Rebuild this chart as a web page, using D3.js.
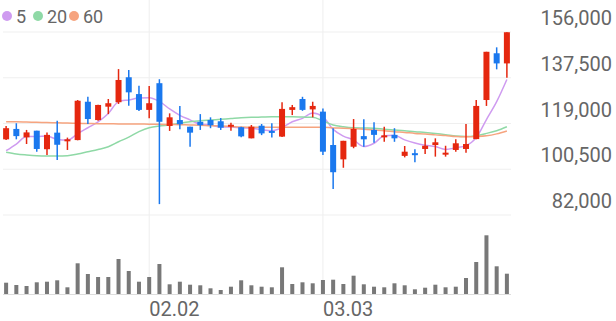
<!DOCTYPE html>
<html><head><meta charset="utf-8">
<script src="https://cdn.jsdelivr.net/npm/d3@7"></script>
<style>html,body{margin:0;padding:0;background:#fff;} svg{display:block;font-family:Roboto,"Noto Sans",sans-serif;}</style>
</head><body>
<svg id="chart" width="616" height="321"></svg>
<script>
const dates = ["01.13","01.14","01.15","01.16","01.19","01.20","01.21","01.22","01.23","01.26","01.27","01.28","01.29","01.30",
  "02.02","02.03","02.04","02.05","02.06","02.09","02.10","02.11","02.12","02.13","02.19","02.20","02.23","02.24","02.25","02.26","02.27",
  "03.03","03.04","03.05","03.06","03.09","03.10","03.11","03.12","03.13","03.16","03.17","03.18","03.19","03.20","03.23","03.24","03.25","03.26","03.27"];
const open  = [112600,116800,113400,116100,108600,115300,111800,112300,127800,120400,125800,127600,137700,130900,124500,135300,118000,120400,117700,119700,120400,119900,118000,117500,113000,118100,116000,113700,124500,128900,124700,123800,110300,104500,109600,113900,116400,113400,114400,105900,107000,108700,110300,106400,108300,108700,112700,128500,147400,143300];
const high  = [118000,119100,116400,116100,115400,120100,113300,128500,129800,126600,128900,141000,140600,134300,134200,136900,123100,126100,117700,122800,121500,121200,119300,117700,118400,118800,119100,127600,126500,129800,127800,125100,117100,112000,120800,120700,119500,117700,117100,109900,108600,113000,113000,110000,112600,118800,128500,148000,149800,155900];
const low   = [112300,112600,110700,107600,106300,104200,108300,112200,118800,120100,122800,126900,126200,124100,121100,86400,116000,116700,109600,116400,117100,116400,116100,113400,113000,114300,113300,113500,122400,124100,121500,106300,92500,101100,109000,109600,111200,111600,111600,105300,103300,106700,105600,105600,107600,107200,112600,126100,140900,137500];
const close = [117100,113900,115400,108700,114400,110400,112600,128200,120800,126500,127200,136600,131600,124500,127200,119700,121500,118700,115300,118300,118300,117300,118500,113800,117700,115000,115300,124900,125600,124500,126100,107600,99300,112000,116800,112600,114400,114200,113000,107600,106300,110000,111400,107200,111000,110700,126100,148000,143300,155900];
const volume = [113,90,80,117,123,137,67,307,200,170,170,350,230,123,170,300,97,123,93,87,57,40,73,137,87,73,67,267,100,117,107,140,143,100,183,97,73,67,107,87,47,63,93,67,73,160,320,587,277,203];
const ma5  = [108000,110700,113700,113700,113900,112560,112300,114860,117280,119700,123060,127860,128540,129280,129420,127920,124900,122320,120480,118700,118420,117580,117540,117240,117120,116460,116060,117340,119700,121060,123280,121740,116620,113900,112360,109660,111020,114000,114200,112360,111100,110220,109660,108500,109180,110060,113280,120600,127820,136800];
const ma20 = [107400,106700,106300,106000,105900,105900,106000,106700,107600,108500,109600,111600,113500,115700,117300,118000,118400,119100,119700,120100,120400,120700,121000,121300,121500,121600,121700,121700,121700,121600,121500,120100,118400,117700,117300,117200,117100,116700,116400,116100,115700,115400,115000,114500,113900,113700,114100,115000,116100,117700];
const ma60 = [119700,119700,119600,119500,119400,119300,119200,119100,119000,118900,118900,118800,118800,118800,118700,118700,118600,118500,118400,118300,118100,118000,117800,117600,117500,117500,117500,117500,117500,117500,117500,117500,117200,117100,116900,116700,116400,116100,115700,115400,115000,114800,114400,114100,113700,113600,113700,114000,114800,116000];
const priceTicks = [82000,100500,119000,137500,156000];
const dateTicks = ["02.02","03.03"];
const legendLabels = ["5","20","60"];
const maColors = ["#cf9bf0","#8fd9a6","#f6a47f"];

const svg = d3.select("#chart");
const x = d3.scaleBand().domain(dates).range([1,512]);
const cx = d => x(d) + x.bandwidth()/2;
const y = d3.scaleLinear().domain([82000,156000]).range([215,32]);
const yv = d3.scaleLinear().domain([0,600]).range([294,234]);
const gridX0 = 3, gridX1 = 511;

// vertical grid
svg.append("g").selectAll("line").data(dateTicks).join("line")
  .attr("x1", d=>cx(d)).attr("x2", d=>cx(d)).attr("y1",0).attr("y2",294)
  .attr("stroke","#eeeeee").attr("stroke-width",1);
// horizontal grid
svg.append("g").selectAll("line").data(priceTicks).join("line")
  .attr("x1",gridX0).attr("x2",gridX1).attr("y1",d=>y(d)).attr("y2",d=>y(d))
  .attr("stroke","#efefef").attr("stroke-width",1);
// y labels
svg.append("g").selectAll("text").data(priceTicks).join("text")
  .attr("x",612).attr("y",d=>y(d)-7).attr("text-anchor","end")
  .attr("font-size",20).attr("fill","#666").text(d=>d3.format(",")(d));
// date labels
svg.append("g").selectAll("text").data(dateTicks).join("text")
  .attr("x",d=>cx(d)).attr("y",316).attr("text-anchor","start")
  .attr("font-size",20).attr("fill","#666").text(d=>d);

// MA lines
[ma5,ma20,ma60].forEach((arr,k)=>{
  const line = d3.line().x((v,i)=>cx(dates[i])).y(v=>y(v)).curve(d3.curveMonotoneX);
  svg.append("path").datum(arr).attr("d",line).attr("fill","none")
    .attr("stroke",maColors[k]).attr("stroke-width",1.5);
});

// candles
const red="#e5270f", blue="#1a78ee";
const g = svg.append("g");
dates.forEach((d,i)=>{
  const up = close[i] >= open[i];
  const col = up ? red : blue;
  g.append("line").attr("x1",cx(d)).attr("x2",cx(d)).attr("y1",y(high[i])).attr("y2",y(low[i]))
    .attr("stroke",col).attr("stroke-width",1.5);
  const top = y(Math.max(open[i],close[i])), bot = y(Math.min(open[i],close[i]));
  g.append("rect").attr("x",cx(d)-3).attr("width",6)
    .attr("y",top).attr("height",Math.max(2,bot-top)).attr("fill",col);
});

// volume
svg.append("g").selectAll("rect").data(dates).join("rect")
  .attr("x",d=>cx(d)-2).attr("width",4)
  .attr("y",(d,i)=>yv(volume[i])).attr("height",(d,i)=>yv(0)-yv(volume[i]))
  .attr("fill","#787878");
svg.append("line").attr("x1",gridX0).attr("x2",gridX1).attr("y1",294.5).attr("y2",294.5)
  .attr("stroke","#dddddd").attr("stroke-width",1);

// legend
const lx = [7,38,74], tx = [16,47,83];
legendLabels.forEach((l,k)=>{
  svg.append("circle").attr("cx",lx[k]).attr("cy",16).attr("r",5).attr("fill",maColors[k]);
  svg.append("text").attr("x",tx[k]).attr("y",22.5).attr("font-size",18).attr("fill","#666").text(l);
});
</script>
</body></html>
